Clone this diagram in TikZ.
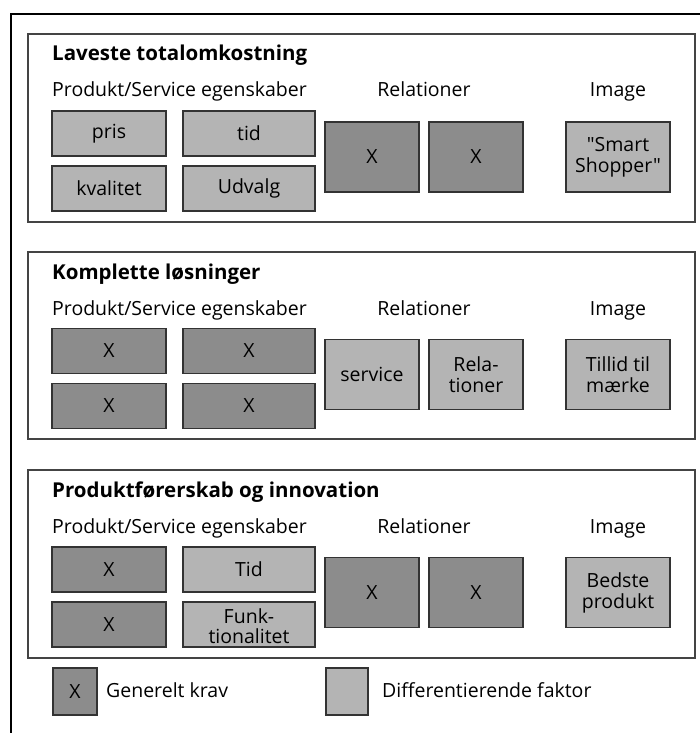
\documentclass[tikz,border=0pt]{standalone}
\usepackage{fontspec}
\setmainfont{Open Sans}[Ligatures=TeXOff]
\definecolor{genfill}{HTML}{8C8C8C}
\definecolor{diffill}{HTML}{B4B4B4}
\definecolor{boxline}{HTML}{333333}
\definecolor{panelline}{HTML}{444444}
\tikzset{
  panel/.style={draw=panelline, line width=1.4pt},
  cell/.style={draw=boxline, line width=1.4pt, inner sep=0pt, align=center,
    font={\fontsize{19.5}{21}\selectfont}},
  gen/.style={cell, fill=genfill},
  dif/.style={cell, fill=diffill},
  small/.style={minimum width=114pt, minimum height=45pt},
  wide/.style={minimum width=132pt, minimum height=45pt},
  rel/.style={minimum width=94pt, minimum height=70pt},
  img/.style={minimum width=104pt, minimum height=70pt},
  ttl/.style={anchor=base west, inner sep=0pt, font={\fontsize{20.5}{23}\selectfont\bfseries}},
  hdr/.style={inner sep=0pt, font={\fontsize{19.5}{21}\selectfont}},
}
\begin{document}
\begin{tikzpicture}[x=1pt, y=-1pt]
\useasboundingbox (0,0) rectangle (700,733);
\draw[line width=2.8pt, line cap=rect] (11,733) -- (11,14) -- (700,14);

% Panel 1
\begin{scope}
\draw[panel] (28,34) rectangle (695,222);
\node[ttl] (t1) at (52,61) {Laveste totalomkostning};
\node[hdr, anchor=base west] (h1a) at (52,97) {Produkt/Service egenskaber};
\node[hdr, anchor=base] (h1b) at (424,97) {Relationer};
\node[hdr, anchor=base] (h1c) at (618,97) {Image};
\node[dif, small] (p1a) at (109,133.5) {pris};
\node[dif, small] (p1b) at (109,188.5) {kvalitet};
\node[dif, wide] (p1c) at (249,133.5) {tid};
\node[dif, wide] (p1d) at (249,188.5) {Udvalg};
\node[gen, rel] (r1a) at (372,157) {X};
\node[gen, rel] (r1b) at (476,157) {X};
\node[dif, img] (i1) at (618,157) {"Smart\\Shopper"};
\end{scope}

% Panel 2
\begin{scope}[shift={(0,218)}]
\draw[panel] (28,34) rectangle (695,221);
\node[ttl] (t2) at (52,61) {Komplette løsninger};
\node[hdr, anchor=base west] (h2a) at (52,97) {Produkt/Service egenskaber};
\node[hdr, anchor=base] (h2b) at (424,97) {Relationer};
\node[hdr, anchor=base] (h2c) at (618,97) {Image};
\node[gen, small] (p2a) at (109,133) {X};
\node[gen, small] (p2b) at (109,188) {X};
\node[gen, wide] (p2c) at (249,133) {X};
\node[gen, wide] (p2d) at (249,188) {X};
\node[dif, rel] (r2a) at (372,156.5) {service};
\node[dif, rel] (r2b) at (476,156.5) {Rela-\\tioner};
\node[dif, img] (i2) at (618,156.5) {Tillid til\\mærke};
\end{scope}

% Panel 3
\begin{scope}[shift={(0,436)}]
\draw[panel] (28,34) rectangle (695,222);
\node[ttl] (t3) at (52,61) {Produktførerskab og innovation};
\node[hdr, anchor=base west] (h3a) at (52,97) {Produkt/Service egenskaber};
\node[hdr, anchor=base] (h3b) at (424,97) {Relationer};
\node[hdr, anchor=base] (h3c) at (618,97) {Image};
\node[gen, small] (p3a) at (109,133.5) {X};
\node[gen, small] (p3b) at (109,188.5) {X};
\node[dif, wide] (p3c) at (249,133.5) {Tid};
\node[dif, wide] (p3d) at (249,188.5) {};
\node[inner sep=0pt, align=center, font={\fontsize{19.5}{20}\selectfont}]
  (p3dt) at ([yshift=-2pt]p3d.center) {Funk-\\tionalitet};
\node[gen, rel] (r3a) at (372,156.5) {X};
\node[gen, rel] (r3b) at (476,156.5) {X};
\node[dif, img] (i3) at (618,156.5) {Bedste\\produkt};
\end{scope}

% Legend
\node[gen, minimum width=44pt, minimum height=47pt] (lg1) at (75,691.5) {X};
\node[hdr, anchor=base west] (lt1) at (106,697) {Generelt krav};
\node[dif, minimum width=42pt, minimum height=47pt] (lg2) at (347,691.5) {};
\node[hdr, anchor=base west] (lt2) at (382,697) {Differentierende faktor};
\end{tikzpicture}
\end{document}
